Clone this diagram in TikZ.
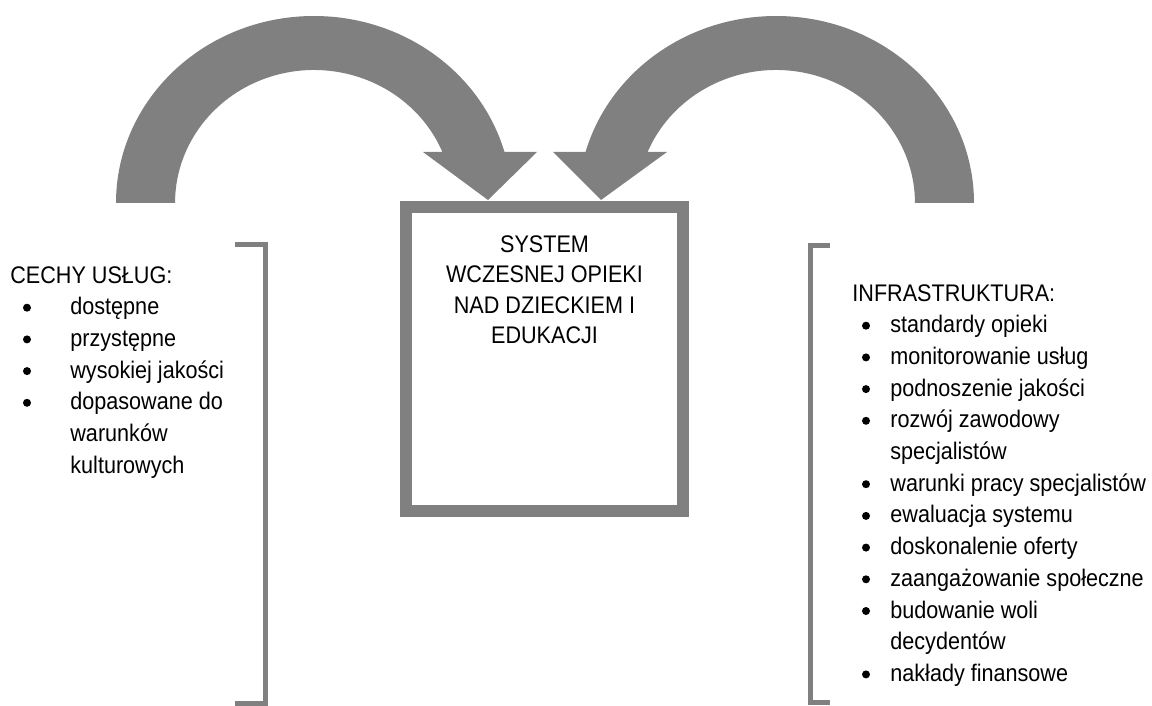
\documentclass[tikz,border=0pt]{standalone}
\usepackage{fontspec}
\setmainfont{Liberation Sans}[FakeStretch=0.9]
\usetikzlibrary{positioning}

\tikzset{
    bigarrow/.style={fill=shapegray, draw=none},
    bracketline/.style={draw=shapegray, line width=2.5pt},
    sysbox/.style={draw=shapegray, line width=6pt, minimum width=138.5pt, minimum height=152pt, inner sep=0pt},
    systext/.style={align=center, inner sep=0pt, font=\fontsize{12}{15.3}\selectfont},
    listtext/.style={anchor=base west, inner sep=0pt, font=\fontsize{12}{14}\selectfont},
    listdot/.style={circle, fill=black, inner sep=0pt, minimum size=4pt}
}

\begin{document}
\begin{tikzpicture}[x=0.5pt, y=-0.5pt]
                \definecolor{shapegray}{RGB}{128,128,128}
                \useasboundingbox (0,0) rectangle (1152,706);
                
                % curved arrows
                \fill [bigarrow] (116,203) arc[start angle=180, end angle=344.17, x radius=198, y radius=187]
                    -- (537,152) -- (488,200) -- (423,152) -- (442.4,152)
                    arc[start angle=337.45, end angle=180, x radius=139, y radius=133] -- cycle;
                \fill [bigarrow] (974,203) arc[start angle=0, end angle=-164.17, x radius=198, y radius=187]
                    -- (553,152) -- (601,200) -- (667,152) -- (647.6,152)
                    arc[start angle=-157.45, end angle=0, x radius=139, y radius=133] -- cycle;
                
                \node [sysbox] (system) at (544.5,359) {};
                \node [systext, below=17pt of system.north] (systemlabel) {SYSTEM\\WCZESNEJ OPIEKI\\NAD DZIECKIEM I\\EDUKACJI};
                
                % brackets
                \draw [bracketline] (235,244) -- (265,244) -- (265,703) -- (235,703);
                \draw [bracketline] (830,245) -- (810,245) -- (810,702) -- (830,702);
                
                \node [listtext] (cechy) at (10,283) {CECHY USŁUG:};
                \foreach \b/\t [count=\i] in {1/dostępne, 1/przystępne, 1/wysokiej jakości, 1/dopasowane do, 0/warunków, 0/kulturowych}{
                    \node [listtext] (cechy\i) at (70,283+31.7*\i) {\t};
                    \ifnum\b=1 \node [listdot] (cechydot\i) at (27,276+31.7*\i) {}; \fi
                }
                
                \node [listtext] (infra) at (852,301) {INFRASTRUKTURA:};
                \foreach \b/\t [count=\i] in {1/standardy opieki, 1/monitorowanie usług, 1/podnoszenie jakości, 1/rozwój zawodowy, 0/specjalistów, 1/warunki pracy specjalistów, 1/ewaluacja systemu, 1/doskonalenie oferty, 1/zaangażowanie społeczne, 1/budowanie woli, 0/decydentów, 1/nakłady finansowe}{
                    \node [listtext] (infra\i) at (890,301+31.7*\i) {\t};
                    \ifnum\b=1 \node [listdot] (infradot\i) at (866,294+31.7*\i) {}; \fi
                }
                
\end{tikzpicture}
\end{document}
